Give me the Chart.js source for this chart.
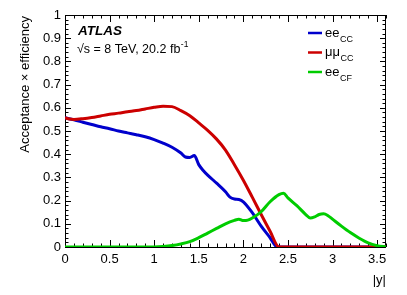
<!DOCTYPE html>
<html>
<head>
<meta charset="utf-8">
<script src="https://cdn.jsdelivr.net/npm/chart.js@4/dist/chart.umd.min.js"></script>
<style>
  html, body { margin: 0; padding: 0; background: #fff; }
  #wrap { width: 407px; height: 295px; }
</style>
</head>
<body>
<div id="wrap"><canvas id="acc"></canvas></div>
<script>
// |y| values and acceptance x efficiency
const eeCC_x = [0, 0.1, 0.2, 0.3, 0.4, 0.5, 0.6, 0.7, 0.8, 0.9, 1.0, 1.1, 1.2, 1.3, 1.35, 1.4, 1.45, 1.5, 1.55, 1.6, 1.7, 1.8, 1.85, 1.9, 1.95, 2.0, 2.1, 2.2, 2.3, 2.38, 3.6];
const eeCC_y = [0.557, 0.548, 0.538, 0.528, 0.518, 0.510, 0.500, 0.492, 0.484, 0.475, 0.463, 0.448, 0.430, 0.405, 0.388, 0.386, 0.394, 0.355, 0.330, 0.310, 0.275, 0.238, 0.215, 0.207, 0.205, 0.195, 0.148, 0.090, 0.040, 0, 0];

const mmCC_x = [0, 0.05, 0.1, 0.2, 0.3, 0.4, 0.5, 0.6, 0.7, 0.8, 0.9, 1.0, 1.1, 1.2, 1.3, 1.4, 1.5, 1.6, 1.7, 1.8, 1.9, 2.0, 2.1, 2.2, 2.3, 2.4, 3.6];
const mmCC_y = [0.557, 0.552, 0.550, 0.553, 0.558, 0.565, 0.572, 0.577, 0.583, 0.588, 0.595, 0.602, 0.607, 0.605, 0.588, 0.566, 0.535, 0.503, 0.465, 0.418, 0.355, 0.288, 0.215, 0.140, 0.068, 0, 0];

const eeCF_x = [0, 1.0, 1.1, 1.2, 1.3, 1.4, 1.5, 1.6, 1.7, 1.8, 1.9, 1.95, 2.0, 2.05, 2.1, 2.2, 2.3, 2.4, 2.45, 2.5, 2.6, 2.7, 2.75, 2.8, 2.85, 2.9, 2.95, 3.0, 3.1, 3.2, 3.3, 3.4, 3.5, 3.6];
const eeCF_y = [0, 0, 0.002, 0.006, 0.013, 0.023, 0.040, 0.060, 0.080, 0.100, 0.115, 0.120, 0.114, 0.116, 0.125, 0.152, 0.195, 0.226, 0.232, 0.212, 0.178, 0.140, 0.125, 0.130, 0.140, 0.143, 0.135, 0.120, 0.090, 0.062, 0.038, 0.018, 0.006, 0];

const xRange = [0, 3.6];
const yRange = [0, 1];

const FONT = '"Liberation Sans", Arial, Helvetica, sans-serif';

function pts(xs, ys) {
  return xs.map((x, i) => ({ x: x, y: ys[i] }));
}

// ROOT style frame with inward ticks on all four sides
const framePlugin = {
  id: 'frame',
  beforeDatasetsDraw(chart) {
    const ctx = chart.ctx, a = chart.chartArea;
    const xs = chart.scales.x, ys = chart.scales.y;
    ctx.save();
    ctx.strokeStyle = '#000';
    ctx.lineWidth = 1;
    ctx.strokeRect(a.left + 0.5, a.top + 0.5, a.right - a.left - 1, a.bottom - a.top);
    ctx.beginPath();
    for (let i = 0; i <= 36; i++) {
      const v = i / 10;
      const px = Math.round(xs.getPixelForValue(v)) + 0.5;
      const len = (i % 5 === 0) ? 7 : 3.5;
      ctx.moveTo(px, a.bottom); ctx.lineTo(px, a.bottom - len);
      ctx.moveTo(px, a.top); ctx.lineTo(px, a.top + len);
    }
    for (let i = 0; i <= 50; i++) {
      const v = i / 50;
      const py = Math.round(ys.getPixelForValue(v)) + 0.5;
      const len = (i % 5 === 0) ? 6 : 3.5;
      ctx.moveTo(a.left, py); ctx.lineTo(a.left + len, py);
      ctx.moveTo(a.right, py); ctx.lineTo(a.right - len, py);
    }
    ctx.stroke();
    ctx.restore();
  },
  afterDraw(chart) {
    const ctx = chart.ctx, a = chart.chartArea;
    ctx.save();
    ctx.fillStyle = '#000';

    // axis titles
    ctx.font = '13px ' + FONT;
    ctx.textAlign = 'right';
    ctx.textBaseline = 'alphabetic';
    ctx.fillText('|y|', a.right, 284);
    ctx.translate(29, a.top + 1);
    ctx.rotate(-Math.PI / 2);
    ctx.fillText('Acceptance \u00d7 efficiency', 0, 0);
    ctx.setTransform(1, 0, 0, 1, 0, 0);

    // ATLAS label
    ctx.textAlign = 'left';
    ctx.font = 'italic bold 13.5px ' + FONT;
    ctx.fillText('ATLAS', 78, 35);
    ctx.font = '12.5px ' + FONT;
    const t = '\u221as = 8 TeV, 20.2 fb';
    ctx.fillText(t, 77, 53);
    const w = ctx.measureText(t).width;
    ctx.font = '8.5px ' + FONT;
    ctx.fillText('-1', 77 + w + 0.5, 47);

    // legend
    const entries = [
      { main: 'ee', sub: 'CC', color: chart.data.datasets[0].borderColor, y: 33 },
      { main: '\u03bc\u03bc', sub: 'CC', color: chart.data.datasets[1].borderColor, y: 52.5 },
      { main: 'ee', sub: 'CF', color: chart.data.datasets[2].borderColor, y: 72 }
    ];
    entries.forEach(e => {
      ctx.strokeStyle = e.color;
      ctx.lineWidth = 2.5;
      ctx.beginPath();
      ctx.moveTo(308, e.y); ctx.lineTo(322, e.y);
      ctx.stroke();
      ctx.font = '13px ' + FONT;
      ctx.fillText(e.main, 325, e.y + 3.5);
      const mw = ctx.measureText(e.main).width;
      ctx.font = '9px ' + FONT;
      ctx.fillText(e.sub, 325 + mw + 0.5, e.y + 8.5);
    });
    ctx.restore();
  }
};

new Chart(document.getElementById('acc'), {
  type: 'line',
  data: {
    datasets: [
      { label: 'eeCC', data: pts(eeCC_x, eeCC_y), borderColor: '#0000cc', order: 2 },
      { label: 'mumuCC', data: pts(mmCC_x, mmCC_y), borderColor: '#cc0000', order: 1 },
      { label: 'eeCF', data: pts(eeCF_x, eeCF_y), borderColor: '#00cc00', order: 0 }
    ]
  },
  options: {
    responsive: true,
    maintainAspectRatio: false,
    animation: false,
    devicePixelRatio: 1,
    layout: { padding: { left: 0, right: 21, top: 15, bottom: 0 } },
    elements: {
      line: { borderWidth: 3, cubicInterpolationMode: 'monotone', fill: false },
      point: { radius: 0, hoverRadius: 0 }
    },
    plugins: { legend: { display: false }, tooltip: { enabled: false } },
    scales: {
      x: {
        type: 'linear',
        min: xRange[0], max: xRange[1],
        afterFit(s) { s.height = 48; },
        grid: { display: false, drawTicks: false },
        border: { display: false },
        ticks: {
          stepSize: 0.5, includeBounds: false, padding: 5,
          color: '#000', font: { family: FONT, size: 13 },
          maxRotation: 0, autoSkip: false,
          callback: v => String(+v.toFixed(1))
        }
      },
      y: {
        type: 'linear',
        min: yRange[0], max: yRange[1],
        afterFit(s) { s.width = 65; },
        grid: { display: false, drawTicks: false },
        border: { display: false },
        ticks: {
          stepSize: 0.1, padding: 4,
          color: '#000', font: { family: FONT, size: 13 },
          autoSkip: false,
          callback: v => String(+v.toFixed(1))
        }
      }
    }
  },
  plugins: [framePlugin]
});
</script>
</body>
</html>
